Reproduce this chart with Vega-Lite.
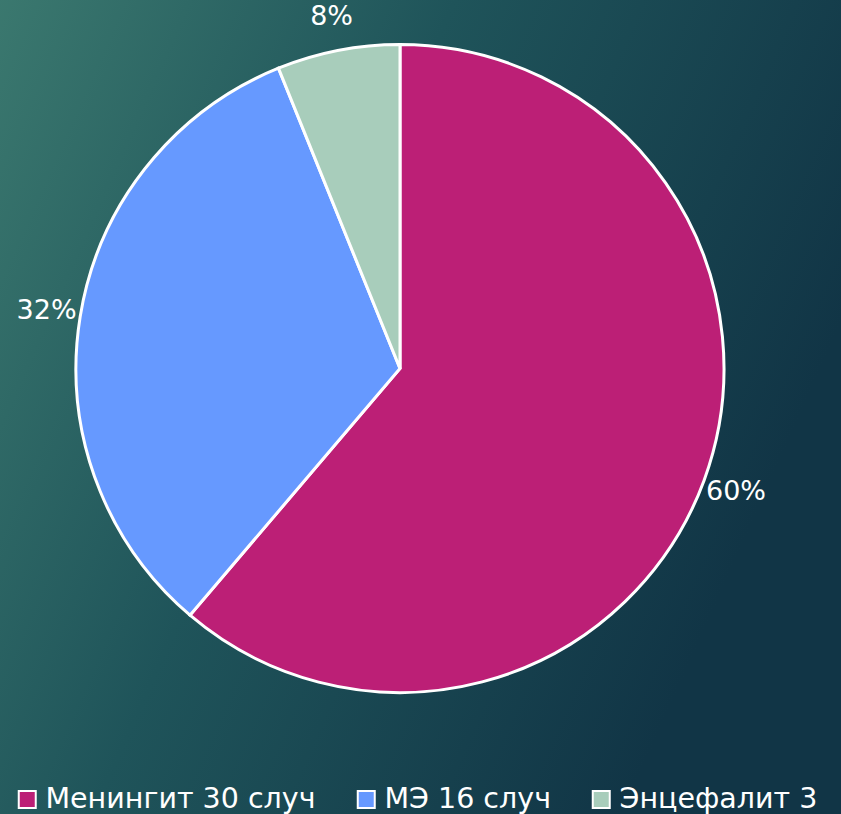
{
  "$schema": "https://vega.github.io/schema/vega-lite/v6.json",
  "autosize": {"type": "none"},
  "padding": {"left": -41, "top": -77, "right": 0, "bottom": 0},
  "width": 882,
  "height": 891,
  "background": "#1c4a53",
  "config": {"view": {"stroke": null}},
  "data": {
    "values": [
      {"label": "Менингит 30 случ", "count": 30, "pct": "60%", "ord": 1},
      {"label": "МЭ 16 случ", "count": 16, "pct": "32%", "ord": 2},
      {"label": "Энцефалит 3", "count": 3, "pct": "8%", "ord": 3}
    ]
  },
  "layer": [
    {
      "data": {"values": [{"bg": 1}]},
      "mark": {
        "type": "rect",
        "color": {
          "gradient": "linear",
          "x1": 0, "y1": 0, "x2": 1, "y2": 0.45,
          "stops": [
            {"offset": 0, "color": "#3f7e72"},
            {"offset": 0.5, "color": "#1f545a"},
            {"offset": 1, "color": "#113546"}
          ]
        }
      },
      "encoding": {}
    },
    {
      "mark": {"type": "arc", "outerRadius": 324, "stroke": "#ffffff", "strokeWidth": 3},
      "encoding": {
        "theta": {"field": "count", "type": "quantitative", "stack": true},
        "order": {"field": "ord", "type": "quantitative"},
        "color": {
          "field": "label",
          "type": "nominal",
          "scale": {
            "domain": ["Менингит 30 случ", "МЭ 16 случ", "Энцефалит 3"],
            "range": ["#bc1f76", "#6699ff", "#a8cdbb"]
          },
          "legend": {
            "title": null,
            "orient": "none",
            "legendX": 54,
            "legendY": 862,
            "direction": "horizontal",
            "symbolType": "square",
            "symbolSize": 289,
            "symbolStrokeColor": "#ffffff",
            "symbolStrokeWidth": 2,
            "symbolOpacity": 1,
            "labelFont": "DejaVu Sans",
            "labelFontSize": 28.5,
            "labelColor": "#ffffff",
            "labelLimit": 2000,
            "labelOffset": 4,
            "columnPadding": 36
          }
        }
      }
    },
    {
      "mark": {"type": "text", "radius": 358, "fontSize": 27, "font": "DejaVu Sans", "color": "#ffffff"},
      "encoding": {
        "theta": {"field": "count", "type": "quantitative", "stack": true},
        "order": {"field": "ord", "type": "quantitative"},
        "detail": {"field": "label", "type": "nominal"},
        "text": {"field": "pct", "type": "nominal"}
      }
    }
  ]
}
